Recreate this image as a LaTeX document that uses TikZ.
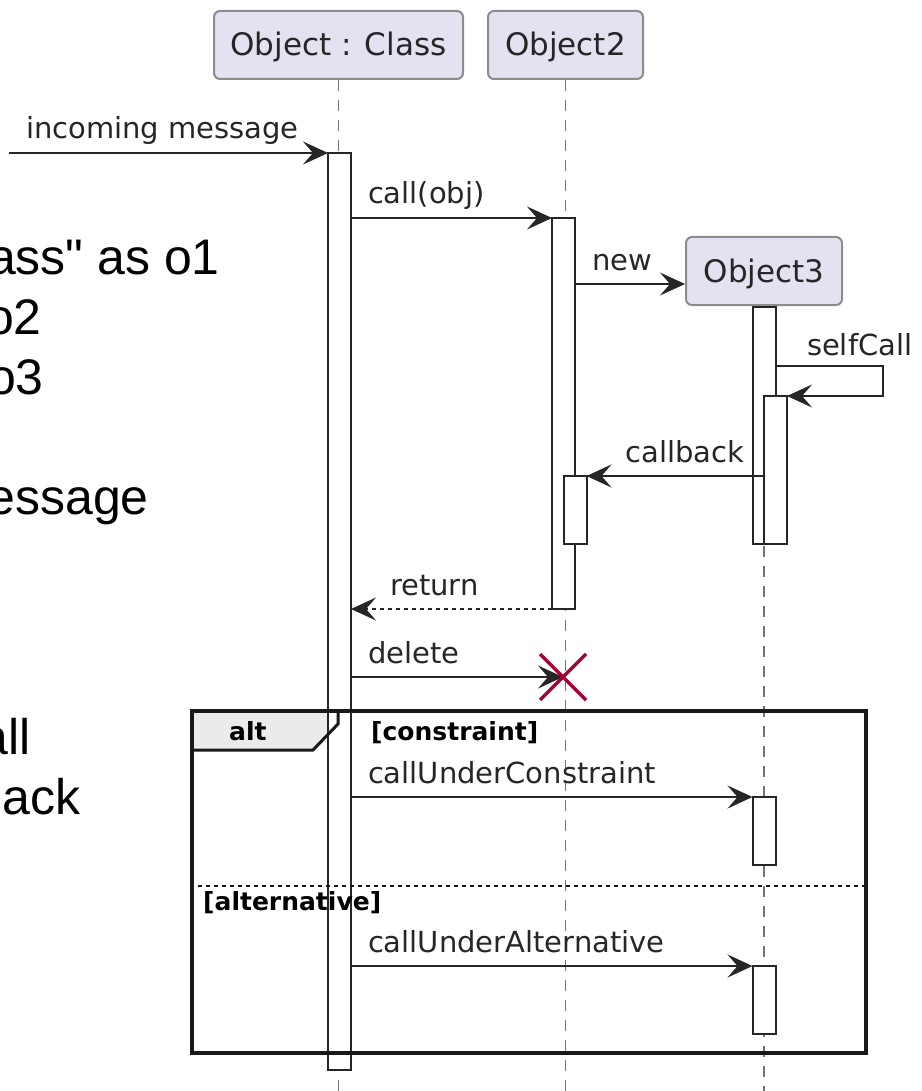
\documentclass[tikz,border=0pt]{standalone}
\usepackage{fontspec}
\usepackage{tikz}
\usetikzlibrary{arrows.meta, positioning, calc}
\usepackage{xcolor}
\newfontfamily\umlfont{DejaVu Sans}
\newfontfamily\codefont{Liberation Sans}
\definecolor{umlLavender}{RGB}{226, 226, 240}
\definecolor{umlDestroyRed}{RGB}{168, 0, 54}
\colorlet{ink}{black!85}
\colorlet{box edge}{black!45}
\colorlet{box area}{umlLavender}
\colorlet{tab area}{black!8}
\tikzset{
    participant/.style={fill=box area, draw=box edge, line width=2pt, rounded corners=6pt, text=ink,
        font=\umlfont\fontsize{31}{36}\selectfont, text height=22pt, text depth=0pt, inner sep=0pt},
    lifeline/.style={draw=black!55, line width=1.8pt, dash pattern=on 11pt off 9pt},
    bar/.style={fill=white, draw=ink, line width=2pt, minimum width=23pt, inner sep=0pt, outer sep=0pt},
    msg/.style={draw=ink, line width=2pt, -{Stealth[length=25pt, width=23pt, inset=10pt]}},
    reply/.style={msg, dash pattern=on 4pt off 4pt},
    msgtext/.style={font=\umlfont\fontsize{29}{34}\selectfont, text=ink, inner sep=0pt, anchor=base west},
    lbl/.style={msgtext, xshift=16pt, yshift=14pt},
    lblback/.style={msgtext, xshift=38pt, yshift=14pt},
    guard/.style={font=\umlfont\bfseries\fontsize{25}{30}\selectfont, text=black, inner sep=0pt, anchor=base west},
    frame/.style={draw=black!90, line width=4pt},
    code/.style={font=\codefont\fontsize{50}{60}\selectfont, text=black, inner sep=0pt, anchor=base east}
}
\begin{document}
\begin{tikzpicture}[x=1pt, y=-1pt]
    % Fix the page to the size of the screenshot
    \useasboundingbox (0,0) rectangle (921,1091);
    \clip (0,0) rectangle (921,1091);

    % Source lines peeking out on the left
    \node[code] (src1) at (220,274) {ass" as o1};
    \node[code] (src2) at (42,334) {o2};
    \node[code] (src3) at (44,394) {o3};
    \node[code] (src4) at (149,514) {essage};
    \node[code] (src5) at (31,754) {all};
    \node[code] (src6) at (81,814) {ack};

    % Participants
    \node[participant, minimum width=249pt, minimum height=68pt] (o1) at (338.5,45) {Object : Class};
    \node[participant, minimum width=155pt, minimum height=68pt, right=23pt of o1] (o2) {Object2};
    \node[participant, minimum width=156pt, minimum height=68pt] (o3) at (764,271) {Object3};

    % Lifelines
    \foreach \who in {o1, o2, o3}
        \draw[lifeline] (\who.south) -- (\who.south |- 0,1091);

    % Tab of the alt frame, under the bars
    \coordinate (fnw) at (192,711);
    \fill[tab area] (fnw) -- ++(146,0) -- ++(0,13) -- ++(-25,26) -- ++(-121,0) -- cycle;

    % Activation bars
    \node[bar, minimum height=917pt] (a1) at (339.5,611.5) {};
    \node[bar, minimum height=391pt] (a2) at (563.5,413.5) {};
    \node[bar, minimum height=237pt] (a3) at (764.5,425.5) {};
    \node[bar, minimum height=148pt] (a4) at (775.5,470) {};
    \node[bar, minimum height=68pt]  (a5) at (575,510) {};
    \node[bar, minimum height=68pt]  (a6) at (764,831) {};
    \node[bar, minimum height=68pt]  (a7) at (764,1000) {};

    % Messages
    \coordinate (edge) at (9,153);
    \draw[msg] (edge) -- node[lbl, pos=0] {incoming message} (a1.north west);
    \draw[msg] (a1.east |- a2.north) -- node[lbl, pos=0] {call(obj)} (a2.north west);
    \draw[msg] (a2.east |- 0,284) -- node[lbl, pos=0] {new} (o3.west |- 0,284);
    \draw[msg] (a3.east |- 0,366) -- node[lbl, pos=0, xshift=14pt, yshift=-3pt] {selfCall} ++(107,0) |- (a4.north east);
    \draw[msg] (a4.west |- a5.north) -- node[lblback, pos=1] {callback} (a5.north east);
    \draw[reply] (a2.south west) -- node[lblback, pos=1] {return} (a1.east |- a2.south);

    % Destroy Object2
    \coordinate (kill) at (563,677);
    \draw[msg] (a1.east |- kill) -- node[lbl, pos=0] {delete} (kill);
    \draw[umlDestroyRed, line width=3.5pt] ($(kill)+(-23,-23)$) -- ($(kill)+(23,23)$)
        ($(kill)+(-23,23)$) -- ($(kill)+(23,-23)$);

    % The alt frame
    \node[frame, minimum width=674pt, minimum height=342pt, inner sep=0pt] (alt) at (529,882) {};
    \draw[frame, line width=3pt] (fnw) ++(146,0) -- ++(0,13) -- ++(-25,26) -- ++(-121,0);
    \draw[black!90, line width=2pt, dash pattern=on 4pt off 4pt] (alt.west |- 0,886) -- (alt.east |- 0,886);
    \node[guard] (altname) at (229,740) {alt};
    \node[guard] (cond1) at (371,740) {[constraint]};
    \node[guard] (cond2) at (203,910) {[alternative]};

    \draw[msg] (a1.east |- a6.north) -- node[lbl, pos=0] {callUnderConstraint} (a6.north west);
    \draw[msg] (a1.east |- a7.north) -- node[lbl, pos=0] {callUnderAlternative} (a7.north west);
\end{tikzpicture}
\end{document}
